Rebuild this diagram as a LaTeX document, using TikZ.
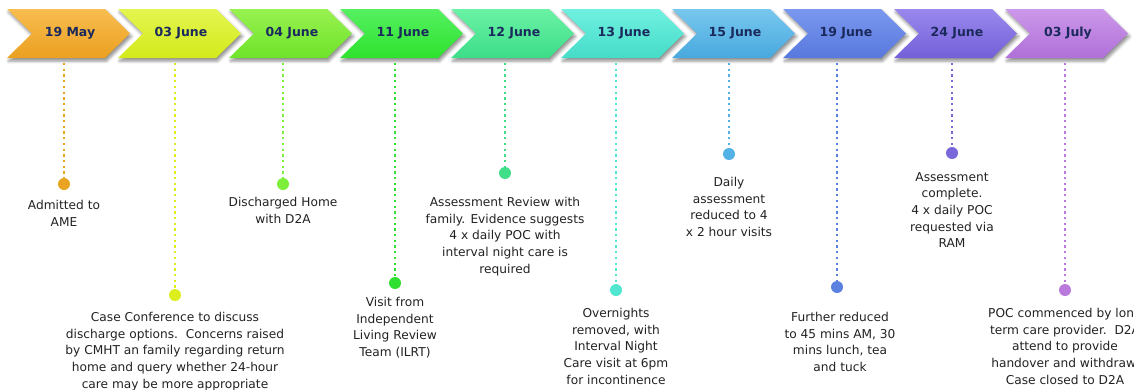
\documentclass[tikz,border=0pt]{standalone}
\usepackage{fontspec}
\setmainfont{DejaVu Sans}
\usetikzlibrary{shadows.blur}

\definecolor{navy}{HTML}{1B2A5C}
\definecolor{notegrey}{HTML}{222222}
% chevron shades, light top and darker bottom
\definecolor{mayA}{HTML}{F8BD50}   \definecolor{mayB}{HTML}{EBA020}
\definecolor{jthreeA}{HTML}{E4F550} \definecolor{jthreeB}{HTML}{D3EA1A}
\definecolor{jfourA}{HTML}{98F250}  \definecolor{jfourB}{HTML}{6EE32A}
\definecolor{jelevA}{HTML}{55F060}  \definecolor{jelevB}{HTML}{2EE22E}
\definecolor{jtwelA}{HTML}{6AF2A5}  \definecolor{jtwelB}{HTML}{3CDD88}
\definecolor{jthirA}{HTML}{70F0E0}  \definecolor{jthirB}{HTML}{45DCC8}
\definecolor{jfiftA}{HTML}{78C8EE}  \definecolor{jfiftB}{HTML}{48A8DE}
\definecolor{jnineA}{HTML}{7A98EE}  \definecolor{jnineB}{HTML}{5878DE}
\definecolor{jtwfoA}{HTML}{9A88EE}  \definecolor{jtwfoB}{HTML}{7360D8}
\definecolor{julyA}{HTML}{CC98EA}   \definecolor{julyB}{HTML}{B070D8}
% marker colours
\definecolor{mayD}{HTML}{EAA424}
\definecolor{jthreeD}{HTML}{DCEE1E}
\definecolor{jfourD}{HTML}{7DEE3A}
\definecolor{jelevD}{HTML}{30E030}
\definecolor{jtwelD}{HTML}{40DE88}
\definecolor{jthirD}{HTML}{50E6D0}
\definecolor{jfiftD}{HTML}{52B2E6}
\definecolor{jnineD}{HTML}{5A80E0}
\definecolor{jtwfoD}{HTML}{7868DA}
\definecolor{julyD}{HTML}{BA7ADD}

\tikzset{
  chev/.style = {draw=none, blur shadow={shadow xshift=1.5pt, shadow yshift=-3pt,
      shadow blur radius=3pt, shadow opacity=45}},
  datetext/.style = {font=\fontsize{12.5}{15}\selectfont\bfseries, text=navy},
  dot/.style = {circle, inner sep=0pt, minimum size=12pt},
  link/.style = {line width=2.3pt, dash pattern=on 2.3pt off 3.4pt},
  note/.style = {align=center, anchor=north, inner sep=0pt, text=notegrey,
      font=\fontsize{12.2}{16.7}\selectfont}
}

\begin{document}
\begin{tikzpicture}[x=1pt, y=-1pt]
        \useasboundingbox (0,0) rectangle (1134,389);
        \clip (0,0) rectangle (1134,389);

        % the row of chevrons
        \draw [chev, top color=mayA, bottom color=mayB]
        (7,9) -- ++(98,0) -- ++(25,24.5) -- ++(-25,24.5) -- ++(-98,0) -- ++(25,-24.5) -- cycle;
        \draw [chev, top color=jthreeA, bottom color=jthreeB]
        (118,9) -- ++(98,0) -- ++(25,24.5) -- ++(-25,24.5) -- ++(-98,0) -- ++(25,-24.5) -- cycle;
        \draw [chev, top color=jfourA, bottom color=jfourB]
        (229,9) -- ++(98,0) -- ++(25,24.5) -- ++(-25,24.5) -- ++(-98,0) -- ++(25,-24.5) -- cycle;
        \draw [chev, top color=jelevA, bottom color=jelevB]
        (340,9) -- ++(98,0) -- ++(25,24.5) -- ++(-25,24.5) -- ++(-98,0) -- ++(25,-24.5) -- cycle;
        \draw [chev, top color=jtwelA, bottom color=jtwelB]
        (451,9) -- ++(98,0) -- ++(25,24.5) -- ++(-25,24.5) -- ++(-98,0) -- ++(25,-24.5) -- cycle;
        \draw [chev, top color=jthirA, bottom color=jthirB]
        (561,9) -- ++(98,0) -- ++(25,24.5) -- ++(-25,24.5) -- ++(-98,0) -- ++(25,-24.5) -- cycle;
        \draw [chev, top color=jfiftA, bottom color=jfiftB]
        (672,9) -- ++(98,0) -- ++(25,24.5) -- ++(-25,24.5) -- ++(-98,0) -- ++(25,-24.5) -- cycle;
        \draw [chev, top color=jnineA, bottom color=jnineB]
        (783,9) -- ++(98,0) -- ++(25,24.5) -- ++(-25,24.5) -- ++(-98,0) -- ++(25,-24.5) -- cycle;
        \draw [chev, top color=jtwfoA, bottom color=jtwfoB]
        (894,9) -- ++(98,0) -- ++(25,24.5) -- ++(-25,24.5) -- ++(-98,0) -- ++(25,-24.5) -- cycle;
        \draw [chev, top color=julyA, bottom color=julyB]
        (1005,9) -- ++(98,0) -- ++(25,24.5) -- ++(-25,24.5) -- ++(-98,0) -- ++(25,-24.5) -- cycle;

        % dates
        \node [datetext] (may19) at (70,33) {19 May};
        \node [datetext] (jun03) at (181,33) {03 June};
        \node [datetext] (jun04) at (292,33) {04 June};
        \node [datetext] (jun11) at (403,33) {11 June};
        \node [datetext] (jun12) at (514,33) {12 June};
        \node [datetext] (jun13) at (624,33) {13 June};
        \node [datetext] (jun15) at (735,33) {15 June};
        \node [datetext] (jun19) at (846,33) {19 June};
        \node [datetext] (jun24) at (957,33) {24 June};
        \node [datetext] (jul03) at (1068,33) {03 July};

        % tops of the drop lines
        \coordinate (may19top) at (64,63);
        \coordinate (jun03top) at (175,63);
        \coordinate (jun04top) at (283,63);
        \coordinate (jun11top) at (395,63);
        \coordinate (jun12top) at (505,63);
        \coordinate (jun13top) at (616,63);
        \coordinate (jun15top) at (729,63);
        \coordinate (jun19top) at (837,63);
        \coordinate (jun24top) at (952,63);
        \coordinate (jul03top) at (1065,63);

        % markers
        \node [dot, fill=mayD] (may19dot) at (64,184) {};
        \node [dot, fill=jthreeD] (jun03dot) at (175,295) {};
        \node [dot, fill=jfourD] (jun04dot) at (283,184) {};
        \node [dot, fill=jelevD] (jun11dot) at (395,283) {};
        \node [dot, fill=jtwelD] (jun12dot) at (505,173) {};
        \node [dot, fill=jthirD] (jun13dot) at (616,290) {};
        \node [dot, fill=jfiftD] (jun15dot) at (729,154) {};
        \node [dot, fill=jnineD] (jun19dot) at (837,287) {};
        \node [dot, fill=jtwfoD] (jun24dot) at (952,153) {};
        \node [dot, fill=julyD] (jul03dot) at (1065,290) {};

        \draw [link, mayD] (may19top) -- (may19dot);
        \draw [link, jthreeD] (jun03top) -- (jun03dot);
        \draw [link, jfourD] (jun04top) -- (jun04dot);
        \draw [link, jelevD] (jun11top) -- (jun11dot);
        \draw [link, jtwelD] (jun12top) -- (jun12dot);
        \draw [link, jthirD] (jun13top) -- (jun13dot);
        \draw [link, jfiftD] (jun15top) -- (jun15dot);
        \draw [link, jnineD] (jun19top) -- (jun19dot);
        \draw [link, jtwfoD] (jun24top) -- (jun24dot);
        \draw [link, julyD] (jul03top) -- (jul03dot);

        % event notes
        \node [note] (may19note) at (64,200) {Admitted to\\AME};
        \node [note] (jun03note) at (175,312) {Case Conference to discuss\\discharge options.\ \ Concerns raised\\by CMHT an family regarding return\\home and query whether 24-hour\\care may be more appropriate};
        \node [note] (jun04note) at (283,197) {Discharged Home\\with D2A};
        \node [note] (jun11note) at (395,297) {Visit from\\Independent\\Living Review\\Team (ILRT)};
        \node [note] (jun12note) at (505,197) {Assessment Review with\\family. Evidence suggests\\4 x daily POC with\\interval night care is\\required};
        \node [note] (jun13note) at (616,308) {Overnights\\removed, with\\Interval Night\\Care visit at 6pm\\for incontinence};
        \node [note] (jun15note) at (729,177) {Daily\\assessment\\reduced to 4\\x 2 hour visits};
        \node [note] (jun19note) at (840,312) {Further reduced\\to 45 mins AM, 30\\mins lunch, tea\\and tuck};
        \node [note] (jun24note) at (952,172) {Assessment\\complete.\\4 x daily POC\\requested via\\RAM};
        \node [note] (jul03note) at (1065,308) {POC commenced by long\\term care provider.\ \ D2A\\attend to provide\\handover and withdraw.\\Case closed to D2A};
    \end{tikzpicture}
\end{document}
